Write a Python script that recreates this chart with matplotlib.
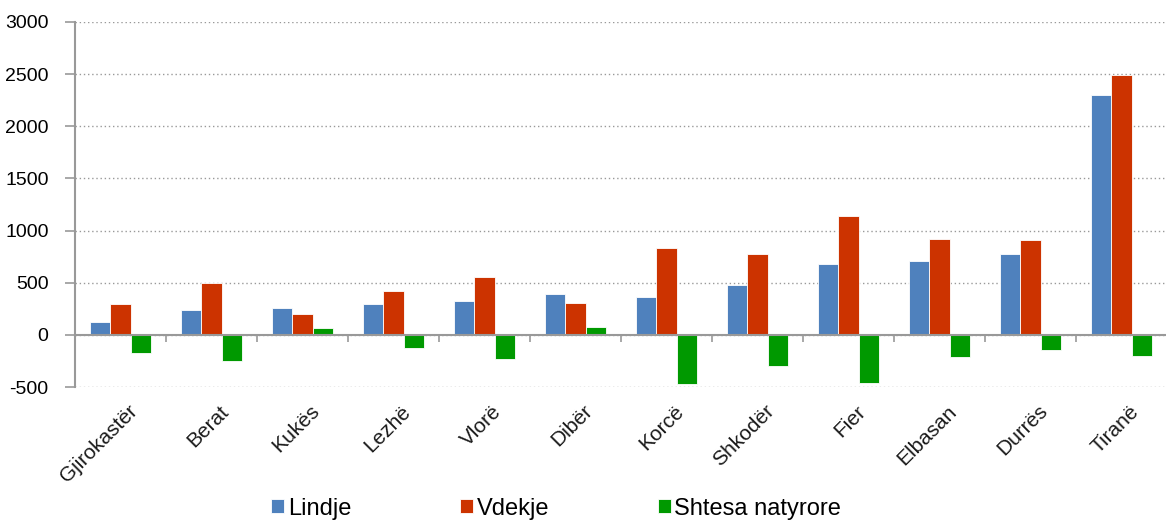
import matplotlib.pyplot as plt
import numpy as np
from matplotlib.transforms import blended_transform_factory

# Të dhënat
qarqet = ['Gjirokastër', 'Berat', 'Kukës', 'Lezhë', 'Vlorë', 'Dibër',
          'Korcë', 'Shkodër', 'Fier', 'Elbasan', 'Durrës', 'Tiranë']
lindje = [122, 243, 262, 294, 320, 387, 365, 480, 684, 706, 777, 2298]
vdekje = [294, 500, 198, 422, 556, 304, 831, 777, 1141, 917, 914, 2496]
shtesa = [-172, -250, 64, -122, -233, 77, -467, -297, -457, -217, -141, -198]

ngjyrat = ['#4F81BD', '#CC3300', '#009900']
emrat = ['Lindje', 'Vdekje', 'Shtesa natyrore']

plt.rcParams['font.family'] = ['Liberation Sans', 'DejaVu Sans']
plt.rcParams['axes.unicode_minus'] = False

fig = plt.figure(figsize=(11.66, 5.21), dpi=100)
ax = fig.add_axes([75 / 1166, 1 - 387 / 521, 1092 / 1166, 365 / 521])

x = np.arange(len(qarqet))
w = 0.22
for k, (seri, ngj, emri) in enumerate(zip([lindje, vdekje, shtesa], ngjyrat, emrat)):
    ax.bar(x + (k - 1) * w, seri, width=w, color=ngj, edgecolor='white',
           linewidth=0.6, label=emri, zorder=3)

ax.set_xlim(-0.5, len(qarqet) - 0.5)
ax.set_ylim(-500, 3000)
ax.set_yticks(np.arange(-500, 3001, 500))
ax.grid(axis='y', linestyle=(0, (1, 2)), color='#999999', linewidth=1, zorder=0)

# Boshti x në vlerën 0
for s in ['top', 'right']:
    ax.spines[s].set_visible(False)
ax.spines['bottom'].set_position(('data', 0))
ax.spines['bottom'].set_color('#999999')
ax.spines['bottom'].set_linewidth(1.5)
ax.spines['bottom'].set_zorder(4)
ax.spines['left'].set_color('#999999')
ax.spines['left'].set_linewidth(1.5)

ax.set_xticks(np.arange(0.5, len(qarqet) - 0.5, 1))
ax.set_xticklabels([])
ax.tick_params(axis='x', direction='out', length=5, color='#999999', width=1.2)
ax.tick_params(axis='y', direction='out', length=7, color='#999999', width=1.2,
               labelsize=14, pad=12)

# Emrat e qarqeve poshtë grafikut
trans = blended_transform_factory(ax.transData, ax.transAxes)
for i, emri in enumerate(qarqet):
    ax.text(i + 0.08, -0.04, emri, transform=trans, rotation=45, ha='right',
            va='top', rotation_mode='anchor', fontsize=15, color='#1a1a1a')

fig.legend(loc='lower center', bbox_to_anchor=(0.477, -0.038), ncol=3, frameon=False,
           fontsize=17, handlelength=0.55, handleheight=0.55, handletextpad=0.15,
           columnspacing=4.6)

fig.savefig('out.png', dpi=100)
